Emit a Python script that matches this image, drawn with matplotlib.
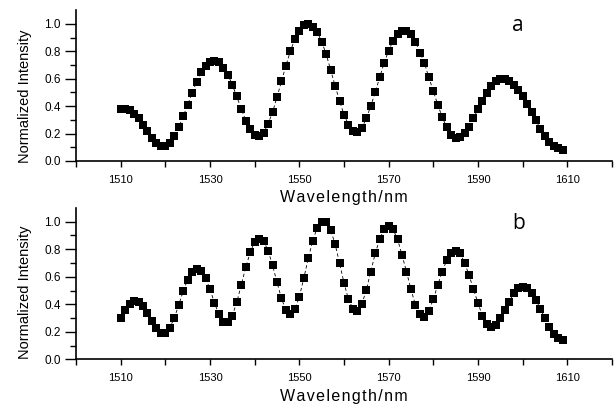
import numpy as np
import matplotlib
matplotlib.use("Agg")
import matplotlib.pyplot as plt

plt.rcParams['font.family'] = ['Liberation Sans', 'DejaVu Sans']

# wavelength samples, 1 nm step
wavelength = np.arange(1510, 1610)

intensity_a = [
    0.38, 0.38, 0.37, 0.345, 0.31, 0.26, 0.215, 0.17, 0.13, 0.11,
    0.11, 0.13, 0.18, 0.245, 0.325, 0.41, 0.495, 0.578, 0.645, 0.695,
    0.725, 0.73, 0.72, 0.68, 0.63, 0.555, 0.47, 0.38, 0.295, 0.23,
    0.19, 0.18, 0.205, 0.27, 0.355, 0.465, 0.58, 0.695, 0.80, 0.89,
    0.95, 0.99, 1.0, 0.98, 0.94, 0.87, 0.78, 0.665, 0.55, 0.44,
    0.337, 0.265, 0.22, 0.21, 0.24, 0.31, 0.40, 0.50, 0.61, 0.715,
    0.805, 0.876, 0.925, 0.945, 0.95, 0.925, 0.87, 0.79, 0.715, 0.61,
    0.51, 0.41, 0.32, 0.245, 0.19, 0.167, 0.175, 0.204, 0.25, 0.313,
    0.378, 0.44, 0.495, 0.544, 0.58, 0.60, 0.60, 0.585, 0.556, 0.52,
    0.47, 0.417, 0.357, 0.296, 0.233, 0.18, 0.136, 0.107, 0.092, 0.083,
]

intensity_b = [
    0.30, 0.36, 0.405, 0.425, 0.42, 0.39, 0.34, 0.28, 0.225, 0.19,
    0.19, 0.23, 0.30, 0.395, 0.495, 0.58, 0.635, 0.66, 0.645, 0.59,
    0.51, 0.41, 0.327, 0.274, 0.27, 0.317, 0.416, 0.54, 0.668, 0.777,
    0.855, 0.877, 0.86, 0.79, 0.685, 0.56, 0.443, 0.358, 0.33, 0.363,
    0.455, 0.588, 0.734, 0.862, 0.956, 1.0, 0.995, 0.94, 0.84, 0.70,
    0.557, 0.436, 0.368, 0.353, 0.40, 0.504, 0.637, 0.77, 0.874, 0.947,
    0.968, 0.944, 0.872, 0.758, 0.637, 0.508, 0.395, 0.327, 0.31, 0.353,
    0.436, 0.54, 0.637, 0.72, 0.77, 0.787, 0.77, 0.702, 0.613, 0.508,
    0.41, 0.315, 0.254, 0.232, 0.25, 0.298, 0.358, 0.419, 0.48, 0.516,
    0.528, 0.516, 0.484, 0.43, 0.366, 0.298, 0.232, 0.184, 0.152, 0.143,
]

xticks_major = np.arange(1500, 1621, 10)
xtick_labels = [str(t) if (t - 1510) % 20 == 0 else '' for t in xticks_major]
panel_labels = ['a', 'b']
xlabel_text = '\u200a'.join('Wavelength/nm')


def draw_panel(ax, y, label, ylab_y):
    ax.plot(wavelength, y, color='black', lw=0.6, ls=(0, (4, 3)),
            marker='s', markersize=5.5, markeredgewidth=0)
    ax.set_xlim(1500, 1620)
    ax.set_ylim(0, 1.1)
    ax.spines['top'].set_visible(False)
    ax.spines['right'].set_visible(False)
    ax.spines['left'].set_linewidth(1.2)
    ax.spines['bottom'].set_linewidth(1.2)
    ax.set_xticks(xticks_major)
    ax.set_xticklabels(xtick_labels, fontsize=8)
    ax.set_yticks(np.arange(0, 1.01, 0.2))
    ax.set_yticklabels(['%.1f' % v for v in np.arange(0, 1.01, 0.2)], fontsize=8.5)
    ax.set_yticks(np.arange(0.1, 1.1, 0.2), minor=True)
    ax.tick_params(axis='x', length=4, width=1, pad=6)
    ax.tick_params(axis='y', which='major', length=8, width=1, pad=3)
    ax.tick_params(axis='y', which='minor', length=4, width=1)
    ax.set_xlabel(xlabel_text, fontsize=11.5, labelpad=4)
    ax.set_ylabel('Normalized Intensity', fontsize=10.5, labelpad=5)
    ax.yaxis.set_label_coords(-0.083, ylab_y)
    ax.text(0.825, 0.90, label, transform=ax.transAxes, fontsize=15,
            ha='center', va='center', family=['Open Sans', 'DejaVu Sans'])


fig = plt.figure(figsize=(6.16, 4.09), dpi=100)
ax_a = fig.add_axes([0.1234, 0.6064, 0.870, 0.369])
ax_b = fig.add_axes([0.1234, 0.1215, 0.870, 0.370])

draw_panel(ax_a, intensity_a, panel_labels[0], 0.43)
draw_panel(ax_b, intensity_b, panel_labels[1], 0.445)

fig.savefig('out.png', dpi=100)
